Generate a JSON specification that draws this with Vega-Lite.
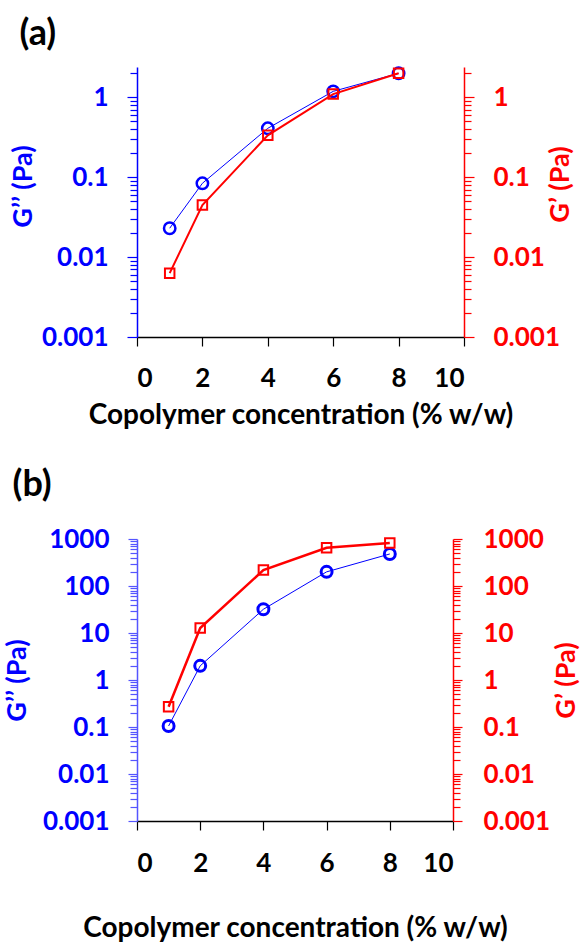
{
  "$schema": "https://vega.github.io/schema/vega-lite/v6.json",
  "padding": {"left": 3, "top": 15, "right": 0, "bottom": 0},
  "spacing": 38,
  "config": {
    "view": {"stroke": null},
    "font": "Lato",
    "axis": {"grid": false, "labelFont": "Lato", "labelFontWeight": "bold", "labelFontSize": 26, "titleFont": "Lato", "titleFontWeight": "bold", "titleFontSize": 27, "tickWidth": 1.2, "domainWidth": 1.5}
  },
  "vconcat": [
    {
      "title": {"text": "(a)", "anchor": "start", "frame": "bounds", "fontSize": 36, "font": "Lato", "fontWeight": "bold", "color": "black", "offset": 10, "dx": 10},
      "width": 327,
      "height": 270,
      "data": {"values": [
        {"c": 1, "Gpp": 0.023, "Gp": 0.0063},
        {"c": 2, "Gpp": 0.084, "Gp": 0.045},
        {"c": 4, "Gpp": 0.41, "Gp": 0.335},
        {"c": 6, "Gpp": 1.19, "Gp": 1.1},
        {"c": 8, "Gpp": 2.0, "Gp": 2.0}
      ]},
      "encoding": {
        "x": {"field": "c", "type": "quantitative", "scale": {"domain": [0, 10], "nice": false},
          "axis": {"title": "Copolymer concentration (% w/w)", "titleFontSize": 28, "values": [0, 2, 4, 6, 8, 10], "domainColor": "black", "tickColor": "black", "labelColor": "black", "titleColor": "black", "tickSize": 9, "labelPadding": 19, "titlePadding": 10}}
      },
      "layer": [
        {"mark": {"type": "line", "color": "#0000ff", "strokeWidth": 1},
         "encoding": {"y": {"field": "Gpp", "type": "quantitative", "scale": {"type": "log", "domain": [0.001, 2.4], "nice": false},
           "axis": {"orient": "left", "title": "G’’ (Pa)", "values": [0.001, 0.01, 0.1, 1], "format": "~g", "tickSize": 10, "labelPadding": 19, "domainColor": "#0000ff", "tickColor": "#0000ff", "labelColor": "#0000ff", "titleColor": "#0000ff", "titlePadding": 4, "titleY": 119}}}},
        {"mark": {"type": "point", "shape": "circle", "filled": false, "color": "#0000ff", "strokeWidth": 2.5, "size": 130, "opacity": 1},
         "encoding": {"y": {"field": "Gpp", "type": "quantitative", "scale": {"type": "log", "domain": [0.001, 2.4], "nice": false},
           "axis": {"orient": "left", "title": null, "labels": false, "domain": false, "tickSize": 7, "tickColor": "#0000ff",
             "values": [0.002, 0.003, 0.004, 0.005, 0.006, 0.007, 0.008, 0.009, 0.02, 0.03, 0.04, 0.05, 0.06, 0.07, 0.08, 0.09, 0.2, 0.3, 0.4, 0.5, 0.6, 0.7, 0.8, 0.9, 2]}}}},
        {"mark": {"type": "line", "color": "#ff0000", "strokeWidth": 2},
         "encoding": {"y": {"field": "Gp", "type": "quantitative", "scale": {"type": "log", "domain": [0.001, 2.4], "nice": false},
           "axis": {"orient": "right", "title": "G’ (Pa)", "titleAngle": 270, "values": [0.001, 0.01, 0.1, 1], "format": "~g", "tickSize": 10, "labelPadding": 19, "domainColor": "#ff0000", "tickColor": "#ff0000", "labelColor": "#ff0000", "titleColor": "#ff0000", "titlePadding": 15, "titleY": 117}}}},
        {"mark": {"type": "point", "shape": "square", "filled": false, "color": "#ff0000", "strokeWidth": 2, "size": 90, "opacity": 1},
         "encoding": {"y": {"field": "Gp", "type": "quantitative", "scale": {"type": "log", "domain": [0.001, 2.4], "nice": false},
           "axis": {"orient": "right", "title": null, "labels": false, "domain": false, "tickSize": 7, "tickColor": "#ff0000",
             "values": [0.002, 0.003, 0.004, 0.005, 0.006, 0.007, 0.008, 0.009, 0.02, 0.03, 0.04, 0.05, 0.06, 0.07, 0.08, 0.09, 0.2, 0.3, 0.4, 0.5, 0.6, 0.7, 0.8, 0.9, 2]}}}}
      ],
      "resolve": {"scale": {"y": "independent"}, "axis": {"y": "independent"}}
    },
    {
      "title": {"text": "(b)", "anchor": "start", "frame": "bounds", "fontSize": 36, "font": "Lato", "fontWeight": "bold", "color": "black", "offset": 22, "dx": 9},
      "width": 316,
      "height": 282,
      "data": {"values": [
        {"c": 1, "Gpp": 0.105, "Gp": 0.27},
        {"c": 2, "Gpp": 2.0, "Gp": 12.8},
        {"c": 4, "Gpp": 32, "Gp": 218},
        {"c": 6, "Gpp": 200, "Gp": 650},
        {"c": 8, "Gpp": 480, "Gp": 820}
      ]},
      "encoding": {
        "x": {"field": "c", "type": "quantitative", "scale": {"domain": [0, 10], "nice": false},
          "axis": {"title": "Copolymer concentration (% w/w)", "titleFontSize": 28, "values": [0, 2, 4, 6, 8, 10], "domainColor": "black", "tickColor": "black", "labelColor": "black", "titleColor": "black", "tickSize": 9, "labelPadding": 20, "titlePadding": 38}}
      },
      "layer": [
        {"mark": {"type": "line", "color": "#0000ff", "strokeWidth": 1},
         "encoding": {"y": {"field": "Gpp", "type": "quantitative", "scale": {"type": "log", "domain": [0.001, 1000], "nice": false},
           "axis": {"orient": "left", "title": "G’’ (Pa)", "values": [0.001, 0.01, 0.1, 1, 10, 100, 1000], "format": "~g", "tickSize": 9, "labelPadding": 19, "domainColor": "#5555ff", "tickColor": "#5555ff", "labelColor": "#0000ff", "titleColor": "#0000ff", "titlePadding": 11}}}},
        {"mark": {"type": "point", "shape": "circle", "filled": false, "color": "#0000ff", "strokeWidth": 3, "size": 120, "opacity": 1},
         "encoding": {"y": {"field": "Gpp", "type": "quantitative", "scale": {"type": "log", "domain": [0.001, 1000], "nice": false},
           "axis": {"orient": "left", "title": null, "labels": false, "domain": false, "tickSize": 7, "tickColor": "#5555ff",
             "values": [0.002, 0.003, 0.004, 0.005, 0.006, 0.007, 0.008, 0.009, 0.02, 0.03, 0.04, 0.05, 0.06, 0.07, 0.08, 0.09, 0.2, 0.3, 0.4, 0.5, 0.6, 0.7, 0.8, 0.9, 2, 3, 4, 5, 6, 7, 8, 9, 20, 30, 40, 50, 60, 70, 80, 90, 200, 300, 400, 500, 600, 700, 800, 900]}}}},
        {"mark": {"type": "line", "color": "#ff0000", "strokeWidth": 2.5},
         "encoding": {"y": {"field": "Gp", "type": "quantitative", "scale": {"type": "log", "domain": [0.001, 1000], "nice": false},
           "axis": {"orient": "right", "title": "G’ (Pa)", "titleAngle": 270, "values": [0.001, 0.01, 0.1, 1, 10, 100, 1000], "format": "~g", "tickSize": 9, "labelPadding": 21, "domainColor": "#ff0000", "tickColor": "#ff0000", "labelColor": "#ff0000", "titleColor": "#ff0000", "titlePadding": 31}}}},
        {"mark": {"type": "point", "shape": "square", "filled": false, "color": "#ff0000", "strokeWidth": 2, "size": 90, "opacity": 1},
         "encoding": {"y": {"field": "Gp", "type": "quantitative", "scale": {"type": "log", "domain": [0.001, 1000], "nice": false},
           "axis": {"orient": "right", "title": null, "labels": false, "domain": false, "tickSize": 7, "tickColor": "#ff0000",
             "values": [0.002, 0.003, 0.004, 0.005, 0.006, 0.007, 0.008, 0.009, 0.02, 0.03, 0.04, 0.05, 0.06, 0.07, 0.08, 0.09, 0.2, 0.3, 0.4, 0.5, 0.6, 0.7, 0.8, 0.9, 2, 3, 4, 5, 6, 7, 8, 9, 20, 30, 40, 50, 60, 70, 80, 90, 200, 300, 400, 500, 600, 700, 800, 900]}}}}
      ],
      "resolve": {"scale": {"y": "independent"}, "axis": {"y": "independent"}}
    }
  ]
}
